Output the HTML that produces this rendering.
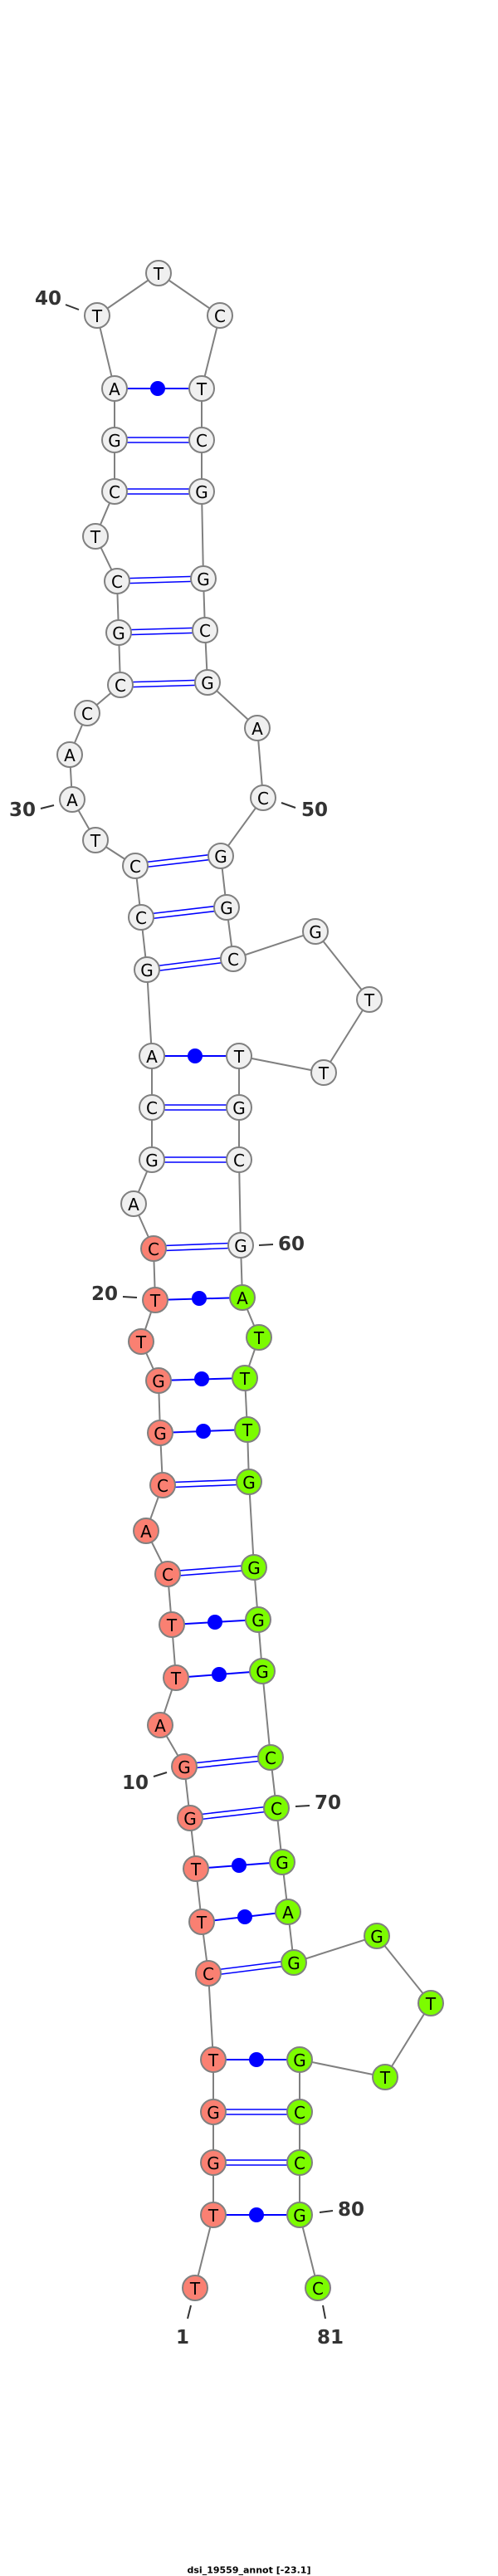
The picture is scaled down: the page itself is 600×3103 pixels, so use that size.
<!DOCTYPE html>
<html><head><meta charset="utf-8"><style>
html,body{margin:0;padding:0;background:#fff;}
svg{display:block;}
.n{stroke:#808080;stroke-width:2;}
.w{fill:#f0f0f0;}.r{fill:#fa8072;}.g{fill:#7cfc00;}
.t{font-family:"DejaVu Sans","Liberation Sans",sans-serif;font-size:20px;fill:#000;text-anchor:middle;dominant-baseline:central;}
.l{font-family:"DejaVu Sans","Liberation Sans",sans-serif;font-size:23px;font-weight:bold;fill:#333;text-anchor:middle;dominant-baseline:central;}
.k{stroke:#333;stroke-width:2;}
.p{stroke:#0000ff;stroke-width:2;fill:none;}
.d{stroke:#0000ff;stroke-width:1.6;fill:none;}
</style></head><body>
<svg width="600" height="3103" viewBox="0 0 600 3103" xmlns="http://www.w3.org/2000/svg">
<polyline fill="none" stroke="#808080" stroke-width="2" points="235,2756 257,2668 257,2605 257,2544 257,2481 251,2377 243,2315 236,2251 229,2190 222,2128 193,2078 212,2021 207,1957 202,1896 176,1844 196,1789 193,1726 191,1663 170,1616 187,1566 185,1504 161,1450 183,1397 183,1334 183,1272 177,1168 170,1105 163,1043 115,1012 87,963 84,909 105,859 145,825 143,762 141,700 115,646 138,592 138,530 138,468 117,380 191,329 265,380 243,468 243,530 243,592 245,697 247,759 250,822 310,877 317,961 266,1031 273,1093 281,1155 380,1122 445,1204 390,1292 288,1272 288,1334 288,1397 290,1500 292,1563 312,1611 295,1660 298,1722 300,1785 306,1888 311,1951 316,2013 326,2117 333,2178 340,2243 347,2303 354,2364 454,2332 519,2413 464,2502 361,2481 361,2544 361,2605 361,2668 383,2756"/>
<!-- single pairs -->
<g class="p">
<line x1="257" y1="2668" x2="361" y2="2668"/>
<line x1="257" y1="2481" x2="361" y2="2481"/>
<line x1="243" y1="2315" x2="347" y2="2303"/>
<line x1="236" y1="2251" x2="340" y2="2243"/>
<line x1="212" y1="2021" x2="316" y2="2013"/>
<line x1="207" y1="1957" x2="311" y2="1951"/>
<line x1="193" y1="1726" x2="298" y2="1722"/>
<line x1="191" y1="1663" x2="295" y2="1660"/>
<line x1="187" y1="1566" x2="292" y2="1563"/>
<line x1="183" y1="1272" x2="288" y2="1272"/>
<line x1="138" y1="468" x2="243" y2="468"/>
</g>
<g fill="#0000ff">
<circle cx="309" cy="2668" r="9"/>
<circle cx="309" cy="2481" r="9"/>
<circle cx="295" cy="2309" r="9"/>
<circle cx="288" cy="2247" r="9"/>
<circle cx="264" cy="2017" r="9"/>
<circle cx="259" cy="1954" r="9"/>
<circle cx="245" cy="1724" r="9"/>
<circle cx="243" cy="1661" r="9"/>
<circle cx="240" cy="1564" r="9"/>
<circle cx="235" cy="1272" r="9"/>
<circle cx="190" cy="468" r="9"/>
</g>
<!-- double pairs -->
<g class="d">
<line x1="257" y1="2541" x2="361" y2="2541"/><line x1="257" y1="2547" x2="361" y2="2547"/>
<line x1="257" y1="2602" x2="361" y2="2602"/><line x1="257" y1="2608" x2="361" y2="2608"/>
<line x1="251" y1="2374" x2="354" y2="2361"/><line x1="251" y1="2380" x2="354" y2="2367"/>
<line x1="229" y1="2187" x2="333" y2="2175"/><line x1="229" y1="2193" x2="333" y2="2181"/>
<line x1="222" y1="2125" x2="326" y2="2114"/><line x1="222" y1="2131" x2="326" y2="2120"/>
<line x1="202" y1="1893" x2="306" y2="1885"/><line x1="202" y1="1899" x2="306" y2="1891"/>
<line x1="196" y1="1786" x2="300" y2="1782"/><line x1="196" y1="1792" x2="300" y2="1788"/>
<line x1="185" y1="1501" x2="290" y2="1497"/><line x1="185" y1="1507" x2="290" y2="1503"/>
<line x1="183" y1="1394" x2="288" y2="1394"/><line x1="183" y1="1400" x2="288" y2="1400"/>
<line x1="183" y1="1331" x2="288" y2="1331"/><line x1="183" y1="1337" x2="288" y2="1337"/>
<line x1="177" y1="1165" x2="281" y2="1152"/><line x1="177" y1="1171" x2="281" y2="1158"/>
<line x1="170" y1="1102" x2="273" y2="1090"/><line x1="170" y1="1108" x2="273" y2="1096"/>
<line x1="163" y1="1040" x2="266" y2="1028"/><line x1="163" y1="1046" x2="266" y2="1034"/>
<line x1="145" y1="822" x2="250" y2="819"/><line x1="145" y1="828" x2="250" y2="825"/>
<line x1="143" y1="759" x2="247" y2="756"/><line x1="143" y1="765" x2="247" y2="762"/>
<line x1="141" y1="697" x2="245" y2="694"/><line x1="141" y1="703" x2="245" y2="700"/>
<line x1="138" y1="589" x2="243" y2="589"/><line x1="138" y1="595" x2="243" y2="595"/>
<line x1="138" y1="527" x2="243" y2="527"/><line x1="138" y1="533" x2="243" y2="533"/>
</g>
<!-- nodes -->
<g class="n">
<circle class="r" cx="235" cy="2756" r="15"/><circle class="r" cx="257" cy="2668" r="15"/><circle class="r" cx="257" cy="2605" r="15"/><circle class="r" cx="257" cy="2544" r="15"/><circle class="r" cx="257" cy="2481" r="15"/><circle class="r" cx="251" cy="2377" r="15"/><circle class="r" cx="243" cy="2315" r="15"/><circle class="r" cx="236" cy="2251" r="15"/><circle class="r" cx="229" cy="2190" r="15"/><circle class="r" cx="222" cy="2128" r="15"/><circle class="r" cx="193" cy="2078" r="15"/><circle class="r" cx="212" cy="2021" r="15"/><circle class="r" cx="207" cy="1957" r="15"/><circle class="r" cx="202" cy="1896" r="15"/><circle class="r" cx="176" cy="1844" r="15"/><circle class="r" cx="196" cy="1789" r="15"/><circle class="r" cx="193" cy="1726" r="15"/><circle class="r" cx="191" cy="1663" r="15"/><circle class="r" cx="170" cy="1616" r="15"/><circle class="r" cx="187" cy="1566" r="15"/><circle class="r" cx="185" cy="1504" r="15"/>
<circle class="w" cx="161" cy="1450" r="15"/><circle class="w" cx="183" cy="1397" r="15"/><circle class="w" cx="183" cy="1334" r="15"/><circle class="w" cx="183" cy="1272" r="15"/><circle class="w" cx="177" cy="1168" r="15"/><circle class="w" cx="170" cy="1105" r="15"/><circle class="w" cx="163" cy="1043" r="15"/><circle class="w" cx="115" cy="1012" r="15"/><circle class="w" cx="87" cy="963" r="15"/><circle class="w" cx="84" cy="909" r="15"/><circle class="w" cx="105" cy="859" r="15"/><circle class="w" cx="145" cy="825" r="15"/><circle class="w" cx="143" cy="762" r="15"/><circle class="w" cx="141" cy="700" r="15"/><circle class="w" cx="115" cy="646" r="15"/><circle class="w" cx="138" cy="592" r="15"/><circle class="w" cx="138" cy="530" r="15"/><circle class="w" cx="138" cy="468" r="15"/><circle class="w" cx="117" cy="380" r="15"/><circle class="w" cx="191" cy="329" r="15"/><circle class="w" cx="265" cy="380" r="15"/><circle class="w" cx="243" cy="468" r="15"/><circle class="w" cx="243" cy="530" r="15"/><circle class="w" cx="243" cy="592" r="15"/><circle class="w" cx="245" cy="697" r="15"/><circle class="w" cx="247" cy="759" r="15"/><circle class="w" cx="250" cy="822" r="15"/><circle class="w" cx="310" cy="877" r="15"/><circle class="w" cx="317" cy="961" r="15"/><circle class="w" cx="266" cy="1031" r="15"/><circle class="w" cx="273" cy="1093" r="15"/><circle class="w" cx="281" cy="1155" r="15"/><circle class="w" cx="380" cy="1122" r="15"/><circle class="w" cx="445" cy="1204" r="15"/><circle class="w" cx="390" cy="1292" r="15"/><circle class="w" cx="288" cy="1272" r="15"/><circle class="w" cx="288" cy="1334" r="15"/><circle class="w" cx="288" cy="1397" r="15"/><circle class="w" cx="290" cy="1500" r="15"/>
<circle class="g" cx="292" cy="1563" r="15"/><circle class="g" cx="312" cy="1611" r="15"/><circle class="g" cx="295" cy="1660" r="15"/><circle class="g" cx="298" cy="1722" r="15"/><circle class="g" cx="300" cy="1785" r="15"/><circle class="g" cx="306" cy="1888" r="15"/><circle class="g" cx="311" cy="1951" r="15"/><circle class="g" cx="316" cy="2013" r="15"/><circle class="g" cx="326" cy="2117" r="15"/><circle class="g" cx="333" cy="2178" r="15"/><circle class="g" cx="340" cy="2243" r="15"/><circle class="g" cx="347" cy="2303" r="15"/><circle class="g" cx="354" cy="2364" r="15"/><circle class="g" cx="454" cy="2332" r="15"/><circle class="g" cx="519" cy="2413" r="15"/><circle class="g" cx="464" cy="2502" r="15"/><circle class="g" cx="361" cy="2481" r="15"/><circle class="g" cx="361" cy="2544" r="15"/><circle class="g" cx="361" cy="2605" r="15"/><circle class="g" cx="361" cy="2668" r="15"/><circle class="g" cx="383" cy="2756" r="15"/>
</g>
<g class="t">
<text x="235" y="2757">T</text><text x="257" y="2669">T</text><text x="257" y="2606">G</text><text x="257" y="2545">G</text><text x="257" y="2482">T</text><text x="251" y="2378">C</text><text x="243" y="2316">T</text><text x="236" y="2252">T</text><text x="229" y="2191">G</text><text x="222" y="2129">G</text><text x="193" y="2079">A</text><text x="212" y="2022">T</text><text x="207" y="1958">T</text><text x="202" y="1897">C</text><text x="176" y="1845">A</text><text x="196" y="1790">C</text><text x="193" y="1727">G</text><text x="191" y="1664">G</text><text x="170" y="1617">T</text><text x="187" y="1567">T</text><text x="185" y="1505">C</text>
<text x="161" y="1451">A</text><text x="183" y="1398">G</text><text x="183" y="1335">C</text><text x="183" y="1273">A</text><text x="177" y="1169">G</text><text x="170" y="1106">C</text><text x="163" y="1044">C</text><text x="115" y="1013">T</text><text x="87" y="964">A</text><text x="84" y="910">A</text><text x="105" y="860">C</text><text x="145" y="826">C</text><text x="143" y="763">G</text><text x="141" y="701">C</text><text x="115" y="647">T</text><text x="138" y="593">C</text><text x="138" y="531">G</text><text x="138" y="469">A</text><text x="117" y="381">T</text><text x="191" y="330">T</text><text x="265" y="381">C</text><text x="243" y="469">T</text><text x="243" y="531">C</text><text x="243" y="593">G</text><text x="245" y="698">G</text><text x="247" y="760">C</text><text x="250" y="823">G</text><text x="310" y="878">A</text><text x="317" y="962">C</text><text x="266" y="1032">G</text><text x="273" y="1094">G</text><text x="281" y="1156">C</text><text x="380" y="1123">G</text><text x="445" y="1205">T</text><text x="390" y="1293">T</text><text x="288" y="1273">T</text><text x="288" y="1335">G</text><text x="288" y="1398">C</text><text x="290" y="1501">G</text>
<text x="292" y="1564">A</text><text x="312" y="1612">T</text><text x="295" y="1661">T</text><text x="298" y="1723">T</text><text x="300" y="1786">G</text><text x="306" y="1889">G</text><text x="311" y="1952">G</text><text x="316" y="2014">G</text><text x="326" y="2118">C</text><text x="333" y="2179">C</text><text x="340" y="2244">G</text><text x="347" y="2304">A</text><text x="354" y="2365">G</text><text x="454" y="2333">G</text><text x="519" y="2414">T</text><text x="464" y="2503">T</text><text x="361" y="2482">G</text><text x="361" y="2545">C</text><text x="361" y="2606">C</text><text x="361" y="2669">G</text><text x="383" y="2757">C</text>
</g>
<!-- number labels -->
<g class="k">
<line x1="79" y1="367" x2="95" y2="373"/>
<line x1="49" y1="974" x2="65" y2="970"/>
<line x1="339" y1="967" x2="356" y2="973"/>
<line x1="312" y1="1500" x2="329" y2="1499"/>
<line x1="148" y1="1562" x2="165" y2="1563"/>
<line x1="185" y1="2140" x2="201" y2="2135"/>
<line x1="356" y1="2176" x2="373" y2="2175"/>
<line x1="385" y1="2665" x2="401" y2="2663"/>
<line x1="230" y1="2777" x2="226" y2="2793"/>
<line x1="389" y1="2777" x2="392" y2="2793"/>
</g>
<g class="l">
<text x="58" y="360">40</text>
<text x="27" y="976">30</text>
<text x="379" y="976">50</text>
<text x="351" y="1499">60</text>
<text x="126" y="1559">20</text>
<text x="163" y="2148">10</text>
<text x="395" y="2172">70</text>
<text x="423" y="2662">80</text>
<text x="220" y="2816">1</text>
<text x="398" y="2816">81</text>
</g>
<text x="300" y="3096" font-family="'DejaVu Sans','Liberation Sans',sans-serif" font-size="11" font-weight="bold" fill="#000" text-anchor="middle" dominant-baseline="central">dsi_19559_annot [-23.1]</text>
</svg>
</body></html>
